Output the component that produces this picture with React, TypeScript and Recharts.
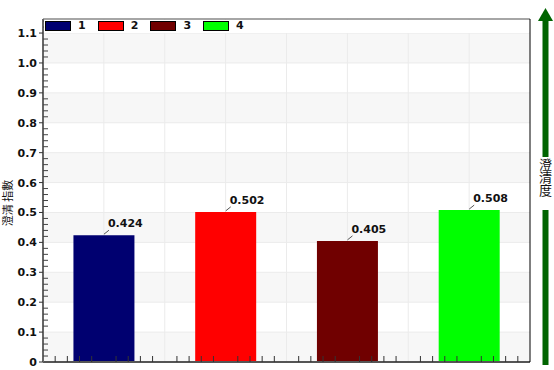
import { BarChart, Bar, Cell, XAxis, YAxis, CartesianGrid, Legend, LabelList } from 'recharts';

const categories = ['1', '2', '3', '4'];
const values = [0.424, 0.502, 0.405, 0.508];
const barColors = ['#000070', '#ff0000', '#700000', '#00ff00'];
const yMajorTicks = [0, 0.1, 0.2, 0.3, 0.4, 0.5, 0.6, 0.7, 0.8, 0.9, 1.0, 1.1];
const leftTitle = '澄清 指數';
const rightTitle = '澄清度';

// y ticks every 0.02; only multiples of 0.1 get a label
const yAllTicks: number[] = [];
for (let i = 0; i <= 57; i++) yAllTicks.push(i / 50);

const data = categories.map((name, i) => ({ name, value: values[i] }));

const FONT = '"DejaVu Sans", Verdana, sans-serif';
const CJK = '"Noto Sans CJK TC", "Noto Sans CJK SC", sans-serif';
const TICK_SIZE = 4;
const TICK_MARGIN = 2;
const X_TICK_SIZE = 6;

const isMajor = (v: number) => yMajorTicks.some((m) => Math.abs(m - v) < 1e-6);

// recharts may hand over a d3 scale or its own wrapper with .map()
const asFn = (s: any): ((v: any) => number) | null => {
  if (typeof s === 'function') return s;
  if (s && typeof s.map === 'function') return (v: any) => s.map(v);
  return null;
};
const bandOf = (s: any) => (s && typeof s.bandwidth === 'function' ? s.bandwidth() : 0);

const YTick = (props: any) => {
  const { x, y, payload } = props;
  const axisX = x + TICK_SIZE + TICK_MARGIN;
  const v = payload.value as number;
  if (!isMajor(v)) {
    return <line x1={axisX} x2={axisX + 5} y1={y} y2={y} stroke="#444" />;
  }
  return (
    <g>
      <line x1={axisX - TICK_SIZE} x2={axisX} y1={y} y2={y} stroke="#333" />
      <text x={x} y={y} dy={4} textAnchor="end" fontSize={11} fontWeight="bold" fill="#111" fontFamily={FONT}>
        {v === 0 ? '0' : v.toFixed(1)}
      </text>
    </g>
  );
};

// minor ticks along the bottom: tenths of each category band, skipping centre and edges
const XTick = (props: any) => {
  const { y, payload, width, visibleTicksCount } = props;
  const c = payload.coordinate as number;
  const h = payload.offset ? (payload.offset as number) : width / (2 * visibleTicksCount);
  const marks = [-4, -3, -2, -1, 1, 2, 3, 4];
  const base = y + X_TICK_SIZE + TICK_MARGIN;
  return (
    <g>
      {marks.map((j) => (
        <line key={j} x1={c + (j * h) / 5} x2={c + (j * h) / 5} y1={base} y2={base - 6} stroke="#333" />
      ))}
    </g>
  );
};

// grid: a line at each band edge and centre; rows at the labelled y ticks
const verticalGrid = ({ xAxis }: any) => {
  const s = xAxis && xAxis.scale;
  const f = asFn(s);
  if (!f) return [];
  const bw = bandOf(s);
  const pts: number[] = [];
  categories.forEach((c, i) => {
    if (i > 0) pts.push(f(c));
    pts.push(f(c) + bw / 2);
  });
  return pts;
};
const horizontalGrid = ({ yAxis }: any) => {
  const f = asFn(yAxis && yAxis.scale);
  if (!f) return [];
  return yMajorTicks.map((v) => f(v));
};

const BarValueLabel = (props: any) => {
  const { x, y, width, value } = props;
  const cx = x + width / 2;
  return (
    <g>
      <line x1={cx} y1={y - 1} x2={cx + 5} y2={y - 5} stroke="#555" strokeWidth={1} />
      <text x={cx + 4} y={y - 8} fontSize={11} fontWeight="bold" fill="#111" fontFamily={FONT}>
        {Number(value).toFixed(3)}
      </text>
    </g>
  );
};

const LegendContent = () => (
  <div style={{ position: 'relative', width: 485, height: 13, background: '#fff' }}>
    {categories.map((c, i) => (
      <div key={c}>
        <div
          style={{
            position: 'absolute',
            left: 1 + i * 52.7,
            top: 1,
            width: 24,
            height: 8,
            background: barColors[i],
            border: '1px solid #000',
          }}
        />
        <div
          style={{
            position: 'absolute',
            left: 34 + i * 52.7,
            top: -1,
            fontSize: 11,
            fontWeight: 'bold',
            fontFamily: FONT,
            color: '#111',
            lineHeight: '14px',
          }}
        >
          {c}
        </div>
      </div>
    ))}
  </div>
);

export default function App() {
  return (
    <div style={{ position: 'absolute', left: 0, top: 0, width: 554, height: 370, background: '#fff' }}>
      <BarChart width={554} height={370} data={data} margin={{ top: 19, right: 24, bottom: 8, left: 0 }} barCategoryGap="25%">
        <CartesianGrid
          xAxisId="main"
          yAxisId="main"
          stroke="#ebebeb"
          horizontalFill={['#ffffff', '#f7f7f7']}
          verticalCoordinatesGenerator={verticalGrid}
          horizontalCoordinatesGenerator={horizontalGrid}
        />
        <XAxis
          xAxisId="main"
          dataKey="name"
          mirror
          tick={XTick}
          tickSize={X_TICK_SIZE}
          tickMargin={TICK_MARGIN}
          tickLine={false}
          axisLine={{ stroke: '#555', strokeWidth: 2 }}
          height={1}
        />
        <XAxis
          xAxisId="top"
          orientation="top"
          dataKey="name"
          mirror
          tick={false}
          tickLine={false}
          axisLine={{ stroke: '#888', strokeWidth: 1.5 }}
          height={1}
        />
        <YAxis
          yAxisId="main"
          width={43}
          domain={[0, 1.147]}
          ticks={yAllTicks}
          allowDataOverflow
          interval={0}
          tickSize={TICK_SIZE}
          tickMargin={TICK_MARGIN}
          tickLine={false}
          axisLine={{ stroke: '#666', strokeWidth: 2 }}
          tick={YTick}
        />
        <YAxis
          yAxisId="right"
          orientation="right"
          mirror
          tick={false}
          tickLine={false}
          axisLine={{ stroke: '#000' }}
          width={1}
        />
        <Legend
          layout="horizontal"
          verticalAlign="middle"
          align="center"
          content={LegendContent}
          wrapperStyle={{ top: 20, left: 44, width: 485, height: 13 }}
        />
        <Bar dataKey="value" xAxisId="main" yAxisId="main" isAnimationActive={false}>
          {data.map((d, i) => (
            <Cell key={d.name} fill={barColors[i]} />
          ))}
          <LabelList dataKey="value" content={BarValueLabel} />
        </Bar>
      </BarChart>
      <svg width={554} height={370} style={{ position: 'absolute', left: 0, top: 0, pointerEvents: 'none' }}>
        <text
          transform="translate(7,203) rotate(-90)"
          textAnchor="middle"
          dominantBaseline="central"
          fontSize={11}
          fill="#111"
          fontFamily={CJK}
        >
          {leftTitle}
        </text>
        <polygon points="538,21 545.5,8 553,21" fill="#006400" />
        <rect x={542.5} y={20} width={6} height={137} fill="#006400" />
        <rect x={542.5} y={210} width={6} height={155} fill="#006400" />
        <text
          x={545.5}
          y={158}
          fontSize={13}
          fill="#111"
          fontFamily={CJK}
          style={{ writingMode: 'vertical-rl', textOrientation: 'upright' }}
        >
          {rightTitle}
        </text>
      </svg>
    </div>
  );
}
